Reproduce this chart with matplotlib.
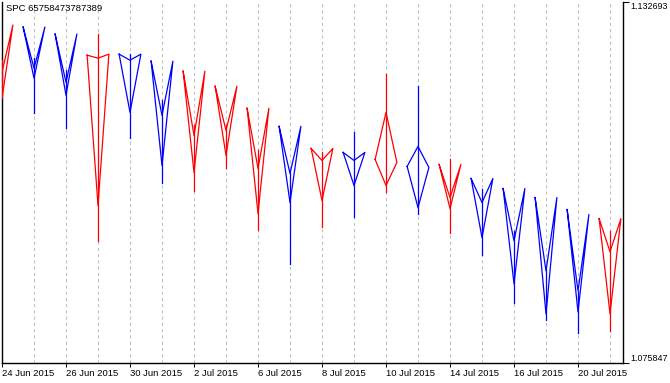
import matplotlib
matplotlib.use("Agg")
import matplotlib.pyplot as plt

plt.rcParams['font.family'] = ['Liberation Sans', 'DejaVu Sans']

# trading days on the chart
days = ["24 Jun", "25 Jun", "26 Jun", "29 Jun", "30 Jun", "1 Jul", "2 Jul", "3 Jul",
        "6 Jul", "7 Jul", "8 Jul", "9 Jul", "10 Jul", "13 Jul", "14 Jul", "15 Jul",
        "16 Jul", "17 Jul", "20 Jul", "21 Jul"]

# shape points per day: left, upper centre, right, lower centre, and the high/low stick
left_y = [1.12827, 1.12875, 1.12764, 1.12432, 1.12448, 1.12338, 1.12180, 1.11943, 1.11596, 1.11311,
          1.10964, 1.10901, 1.10790, 1.10680, 1.10711, 1.10490, 1.10332, 1.10190, 1.10001, 1.09858]
upper_y = [1.12164, 1.12227, 1.12006, 1.12385, 1.12353, 1.11485, 1.11169, 1.11248, 1.10648, 1.10569,
           1.10774, 1.10774, 1.11532, 1.10995, 1.10190, 1.10111, 1.09511, 1.09037, 1.08722, 1.09337]
right_y = [1.12906, 1.12875, 1.12764, 1.12448, 1.12448, 1.12338, 1.12180, 1.11943, 1.11596, 1.11311,
           1.10964, 1.10901, 1.10743, 1.10664, 1.10711, 1.10490, 1.10332, 1.10190, 1.09922, 1.09858]
lower_y = [1.11753, 1.12069, 1.11801, 1.10064, 1.11532, 1.10695, 1.10585, 1.10853, 1.09937, 1.10111,
           1.10143, 1.10380, 1.10380, 1.10032, 1.10016, 1.09558, 1.08832, 1.08358, 1.08390, 1.08358]
high = [1.12353, 1.12385, 1.12196, 1.12764, 1.12448, 1.11722, 1.11327, 1.11327, 1.10932, 1.10569,
        1.10901, 1.11217, 1.12132, 1.11943, 1.10790, 1.10332, 1.09669, 1.09069, 1.08722, 1.09669]
low = [1.11753, 1.11517, 1.11280, 1.09511, 1.11122, 1.10427, 1.10301, 1.10648, 1.09685, 1.09148,
       1.09732, 1.09890, 1.10285, 1.09937, 1.09637, 1.09290, 1.08532, 1.08264, 1.08058, 1.08090]
bull = [0, 1, 1, 0, 1, 1, 0, 0, 0, 1, 0, 1, 0, 1, 0, 1, 1, 1, 1, 0]

price_top = 1.132693
price_bottom = 1.075847
title = "SPC 65758473787389"

W, H = 670, 383
fig = plt.figure(figsize=(W / 100, H / 100), dpi=100)
ax = fig.add_axes([2 / W, 20 / H, 621 / W, 361 / H])

half = 0.34
lw = 0.9
fs = 6.8
for i in range(len(days)):
    c = 'blue' if bull[i] else 'red'
    xs = [i - half, i, i + half, i, i - half]
    ys = [left_y[i], upper_y[i], right_y[i], lower_y[i], left_y[i]]
    ax.plot(xs, ys, color=c, lw=lw, zorder=3)
    ax.plot([i, i], [low[i], high[i]], color=c, lw=lw, zorder=3)

ax.set_xlim(0, 19.406)
ax.set_ylim(price_bottom, price_top)

# grid on every day, labels on every second one
ax.set_xticks(range(1, len(days)), minor=True)
ax.set_xticks(range(0, len(days), 2))
ax.set_xticklabels([d + " 2015" for d in days[::2]])
for lab in ax.get_xticklabels():
    lab.set_ha('left')
ax.tick_params(axis='x', which='major', length=3, width=0.75, pad=1.5, labelsize=fs, direction='out')
ax.tick_params(axis='x', which='minor', length=0)
ax.grid(True, axis='x', which='both', color='#c0c0c0', lw=0.75, linestyle=(0, (3, 3)))
ax.set_axisbelow(True)

ax.yaxis.tick_right()
ax.set_yticks([price_top, price_bottom])
ax.set_yticklabels([f"{price_top:.6f}", f"{price_bottom:.6f}"])
ax.tick_params(axis='y', length=4, width=0.75, pad=1.5, labelsize=6.4, direction='out')
ylabs = ax.get_yticklabels()
ylabs[0].set_va('top')
ylabs[1].set_va('bottom')

for s in ['left', 'right', 'bottom']:
    ax.spines[s].set_linewidth(1)
ax.spines['top'].set_visible(False)

fig.text(6 / W, 1 - 4 / H, title, ha='left', va='top', fontsize=fs)

fig.savefig("out.png", dpi=100)
